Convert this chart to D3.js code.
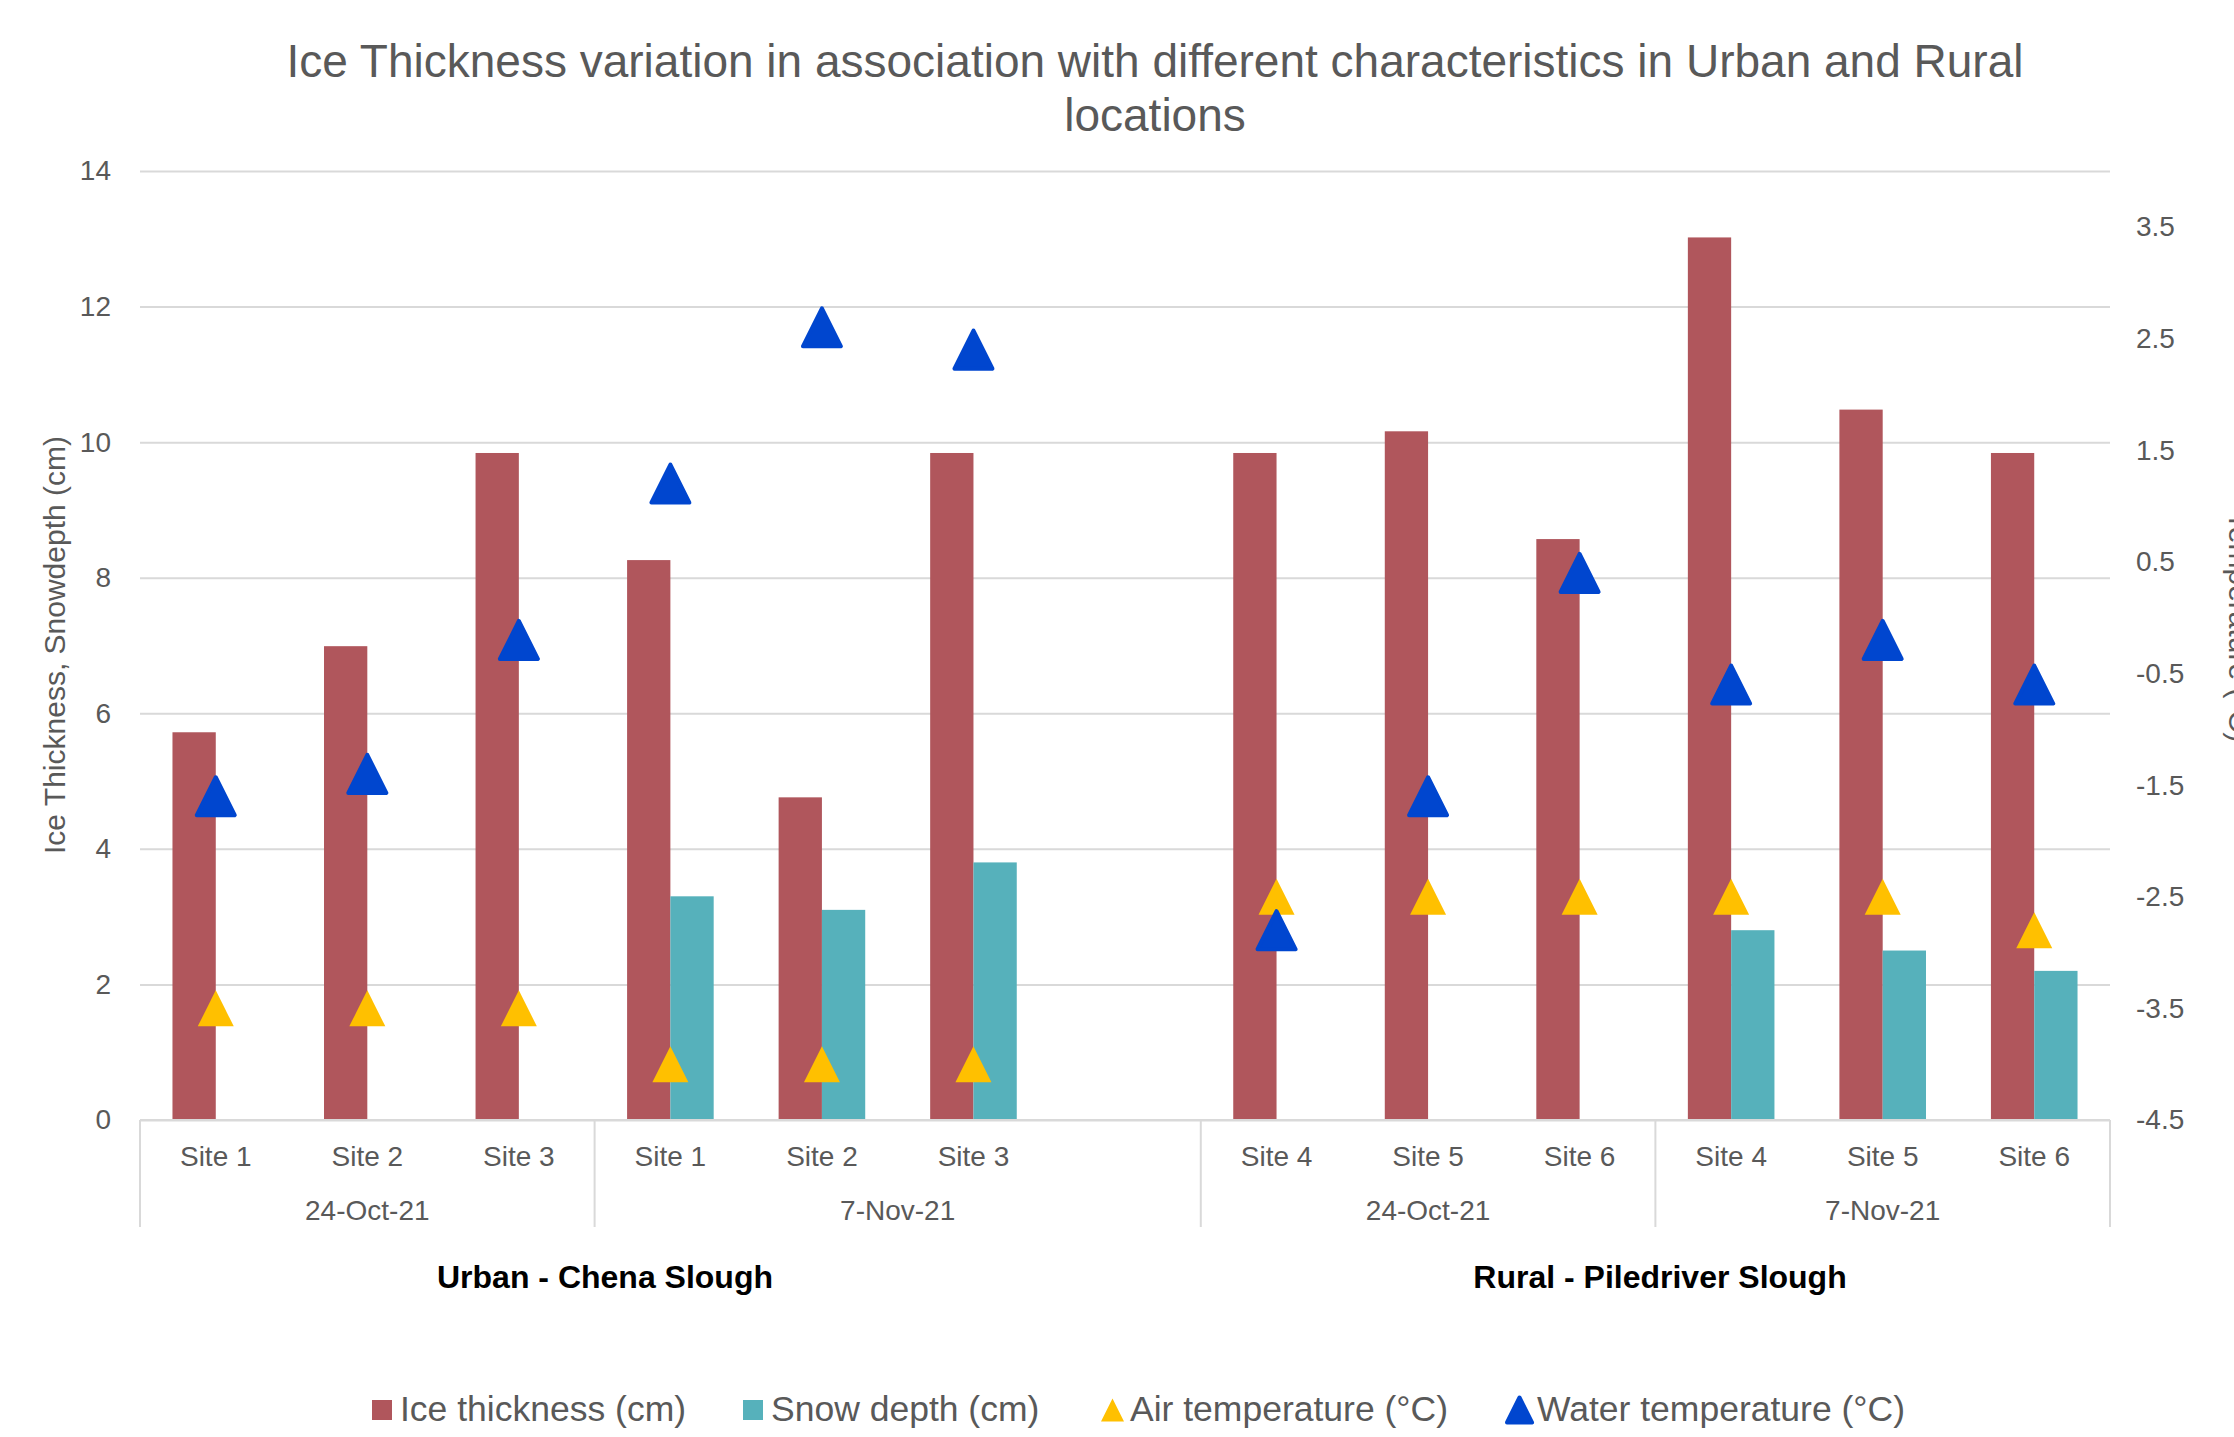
<!DOCTYPE html>
<html>
<head>
<meta charset="utf-8">
<script src="https://cdn.jsdelivr.net/npm/d3@7"></script>
<style>
  body { margin: 0; background: #fff; }
  text { font-family: "Liberation Sans", Arial, sans-serif; }
</style>
</head>
<body>
<div id="chart"></div>
<script>
// categories (one blank slot between the urban and rural groups)
var sites = ['Site 1', 'Site 2', 'Site 3', 'Site 1', 'Site 2', 'Site 3', '',
             'Site 4', 'Site 5', 'Site 6', 'Site 4', 'Site 5', 'Site 6'];
var dateLabels = ['24-Oct-21', '7-Nov-21', '24-Oct-21', '7-Nov-21'];
var dateSpans = [3, 4, 3, 3];
var locationLabels = ['Urban - Chena Slough', 'Rural - Piledriver Slough'];

// series
var iceThickness = [5.72, 6.99, 9.84, 8.26, 4.76, 9.84, null, 9.84, 10.16, 8.57, 13.02, 10.48, 9.84];
var snowDepth = [null, null, null, 3.3, 3.1, 3.8, null, null, null, null, 2.8, 2.5, 2.2];
var airTemp = [-3.5, -3.5, -3.5, -4.0, -4.0, -4.0, null, -2.5, -2.5, -2.5, -2.5, -2.5, -2.8];
var waterTemp = [-1.6, -1.4, -0.2, 1.2, 2.6, 2.4, null, -2.8, -1.6, 0.4, -0.6, -0.2, -0.6];

var leftTicks = [0, 2, 4, 6, 8, 10, 12, 14];
var rightTicks = [-4.5, -3.5, -2.5, -1.5, -0.5, 0.5, 1.5, 2.5, 3.5];
var seriesNames = ['Ice thickness (cm)', 'Snow depth (cm)', 'Air temperature (°C)', 'Water temperature (°C)'];

var colors = {ice: '#b0565c', snow: '#56b1bb', air: '#ffc000', water: '#0046cf'};
var textGrey = '#595959', gridGrey = '#d9d9d9';

var width = 2234, height = 1437;
var plot = {left: 140, right: 2110, top: 171, bottom: 1120};

var svg = d3.select('#chart').append('svg')
  .attr('width', width)
  .attr('height', height);

var x = d3.scaleBand()
  .domain(d3.range(sites.length))
  .range([plot.left, plot.right]);
var yLeft = d3.scaleLinear().domain([0, 14]).range([plot.bottom, plot.top]);
var yRight = d3.scaleLinear().domain([-4.5, 4]).range([plot.bottom, plot.top]);
var barW = x.bandwidth() / 3.5;
var cx = function(i) { return x(i) + x.bandwidth() / 2; };

// title
svg.append('text')
  .attr('x', 1155).attr('y', 77)
  .attr('text-anchor', 'middle')
  .attr('font-size', 46)
  .attr('fill', textGrey)
  .selectAll('tspan')
  .data(['Ice Thickness variation in association with different characteristics in Urban and Rural', 'locations'])
  .enter().append('tspan')
  .attr('x', 1155)
  .attr('dy', function(d, i) { return i ? 54 : 0; })
  .text(function(d) { return d; });

// left axis + gridlines
var gLeft = svg.append('g')
  .attr('transform', 'translate(' + plot.left + ',0)')
  .call(d3.axisLeft(yLeft).tickValues(leftTicks).tickSize(-(plot.right - plot.left)).tickPadding(29));
gLeft.select('.domain').remove();
gLeft.selectAll('line').attr('stroke', gridGrey).attr('stroke-width', 2);
gLeft.selectAll('text').attr('font-size', 28).attr('fill', textGrey).attr('font-family', '"Liberation Sans", Arial, sans-serif');

// right axis
var gRight = svg.append('g')
  .attr('transform', 'translate(' + plot.right + ',0)')
  .call(d3.axisRight(yRight).tickValues(rightTicks).tickSize(0).tickPadding(26)
    .tickFormat(function(d) { return d.toFixed(1); }));
gRight.select('.domain').remove();
gRight.selectAll('text').attr('font-size', 28).attr('fill', textGrey).attr('font-family', '"Liberation Sans", Arial, sans-serif');

// axis titles
svg.append('text')
  .attr('transform', 'translate(65,645) rotate(-90)')
  .attr('text-anchor', 'middle')
  .attr('font-size', 30)
  .attr('fill', textGrey)
  .text('Ice Thickness, Snowdepth (cm)');

// right title sits mostly past the edge, as in the original
svg.append('text')
  .attr('transform', 'translate(2229,627) rotate(90)')
  .attr('text-anchor', 'middle')
  .attr('font-size', 30)
  .attr('fill', textGrey)
  .text('Temperature (°C)');

// bars
svg.append('g').selectAll('rect')
  .data(iceThickness.map(function(v, i) { return {v: v, i: i}; }).filter(function(d) { return d.v != null; }))
  .enter().append('rect')
  .attr('x', function(d) { return cx(d.i) - barW; })
  .attr('y', function(d) { return yLeft(d.v); })
  .attr('width', barW)
  .attr('height', function(d) { return yLeft(0) - yLeft(d.v); })
  .attr('fill', colors.ice);

svg.append('g').selectAll('rect')
  .data(snowDepth.map(function(v, i) { return {v: v, i: i}; }).filter(function(d) { return d.v != null; }))
  .enter().append('rect')
  .attr('x', function(d) { return cx(d.i); })
  .attr('y', function(d) { return yLeft(d.v); })
  .attr('width', barW)
  .attr('height', function(d) { return yLeft(0) - yLeft(d.v); })
  .attr('fill', colors.snow);

// triangle marker path, centred on its box
var tri = function(s) {
  return 'M0,' + (-s / 2) + 'L' + (s / 2) + ',' + (s / 2) + 'L' + (-s / 2) + ',' + (s / 2) + 'Z';
};

svg.append('g').selectAll('path')
  .data(airTemp.map(function(v, i) { return {v: v, i: i}; }).filter(function(d) { return d.v != null; }))
  .enter().append('path')
  .attr('d', tri(36))
  .attr('transform', function(d) { return 'translate(' + cx(d.i) + ',' + yRight(d.v) + ')'; })
  .attr('fill', colors.air);

svg.append('g').selectAll('path')
  .data(waterTemp.map(function(v, i) { return {v: v, i: i}; }).filter(function(d) { return d.v != null; }))
  .enter().append('path')
  .attr('d', tri(38))
  .attr('transform', function(d) { return 'translate(' + cx(d.i) + ',' + yRight(d.v) + ')'; })
  .attr('fill', colors.water)
  .attr('stroke', colors.water)
  .attr('stroke-width', 4)
  .attr('stroke-linejoin', 'round');

// category axis: site labels
var gBottom = svg.append('g')
  .attr('transform', 'translate(0,' + plot.bottom + ')')
  .call(d3.axisBottom(x).tickSize(0).tickPadding(26).tickFormat(function(i) { return sites[i]; }));
gBottom.select('.domain').remove();
gBottom.selectAll('text').attr('font-size', 28).attr('fill', textGrey).attr('font-family', '"Liberation Sans", Arial, sans-serif');

svg.append('line')
  .attr('x1', plot.left).attr('x2', plot.right)
  .attr('y1', plot.bottom).attr('y2', plot.bottom)
  .attr('stroke', gridGrey).attr('stroke-width', 2);

// date groups and separators
var bounds = [0];
dateSpans.forEach(function(s) { bounds.push(bounds[bounds.length - 1] + s); });
var edge = function(k) { return k < sites.length ? x(k) : plot.right; };

svg.append('g').selectAll('line')
  .data(bounds)
  .enter().append('line')
  .attr('x1', function(k) { return edge(k); })
  .attr('x2', function(k) { return edge(k); })
  .attr('y1', plot.bottom).attr('y2', 1227)
  .attr('stroke', gridGrey).attr('stroke-width', 2);

svg.append('g').selectAll('text')
  .data(dateLabels)
  .enter().append('text')
  .attr('x', function(d, j) { return (edge(bounds[j]) + edge(bounds[j + 1])) / 2; })
  .attr('y', 1220)
  .attr('text-anchor', 'middle')
  .attr('font-size', 28)
  .attr('fill', textGrey)
  .text(function(d) { return d; });

// location labels
svg.append('g').selectAll('text')
  .data(locationLabels)
  .enter().append('text')
  .attr('x', function(d, j) { return [605, 1660][j]; })
  .attr('y', 1288)
  .attr('text-anchor', 'middle')
  .attr('font-size', 32)
  .attr('font-weight', 'bold')
  .attr('fill', '#000')
  .text(function(d) { return d; });

// legend
var legendX = [372, 743, 1101, 1505];
var legendTextX = [400, 771, 1130, 1537];
var legend = svg.append('g');
legend.append('rect').attr('x', legendX[0]).attr('y', 1400).attr('width', 20).attr('height', 20).attr('fill', colors.ice);
legend.append('rect').attr('x', legendX[1]).attr('y', 1400).attr('width', 20).attr('height', 20).attr('fill', colors.snow);
legend.append('path').attr('d', tri(23))
  .attr('transform', 'translate(' + (legendX[2] + 11.5) + ',1410)')
  .attr('fill', colors.air);
legend.append('path').attr('d', tri(25))
  .attr('transform', 'translate(' + (legendX[3] + 14.5) + ',1410)')
  .attr('fill', colors.water).attr('stroke', colors.water)
  .attr('stroke-width', 4).attr('stroke-linejoin', 'round');
legend.selectAll('text')
  .data(seriesNames)
  .enter().append('text')
  .attr('x', function(d, j) { return legendTextX[j]; })
  .attr('y', 1421)
  .attr('font-size', 35.5)
  .attr('fill', textGrey)
  .text(function(d) { return d; });
</script>
</body>
</html>
